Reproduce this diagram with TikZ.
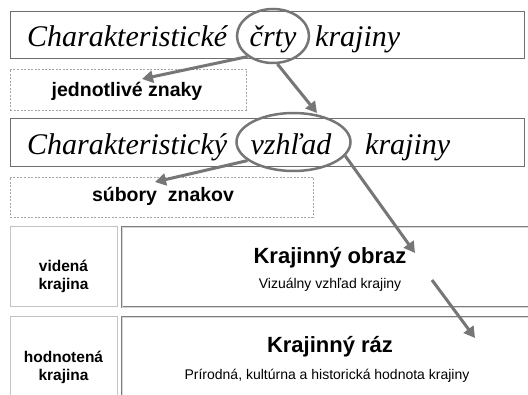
\documentclass[tikz,border=0pt]{standalone}
\usepackage{fontspec}
\newfontfamily\arialf{Liberation Sans}
\newfontfamily\timesf{Liberation Serif}
\usetikzlibrary{arrows.meta,shapes.geometric}
\definecolor{arrgray}{RGB}{118,118,118}
\definecolor{boxgray}{RGB}{110,110,110}
\definecolor{dashgray}{RGB}{165,165,165}
\definecolor{lightbox}{RGB}{195,195,195}
\definecolor{dblout}{RGB}{125,125,125}
\definecolor{dblin}{RGB}{215,215,215}
\begin{document}
\begin{tikzpicture}[x=1pt,y=-1pt,
  titlebox/.style={draw=boxgray, line width=1pt, inner sep=0pt, fill=white},
  dashbox/.style={draw=dashgray, line width=0.7pt, dash pattern=on 2pt off 1.5pt, inner sep=0pt},
  leftbox/.style={draw=lightbox, line width=1pt, inner sep=0pt},
  rightbox/.style={draw=dblout, line width=0.9pt, double=dblin, double distance=0.8pt, inner sep=0pt},
  titletext/.style={inner sep=0pt, font=\timesf\itshape\fontsize{30}{33}\selectfont},
  labeltext/.style={inner sep=0pt, anchor=base, font=\arialf\bfseries\fontsize{19.5}{21}\selectfont},
  sidetext/.style={inner sep=0pt, anchor=base, font=\arialf\bfseries\fontsize{15.5}{17}\selectfont},
  bigtext/.style={inner sep=0pt, anchor=base, font=\arialf\bfseries\fontsize{22}{24}\selectfont},
  smalltext/.style={inner sep=0pt, anchor=base, font=\arialf\fontsize{14}{16}\selectfont},
  ring/.style={ellipse, draw=arrgray, line width=2.5pt, inner sep=0pt},
  arr/.style={draw=arrgray, line width=3pt, -{Triangle[length=11pt,width=12pt]}}
]
\useasboundingbox (0,0) rectangle (528,395);
\clip (0,0) rectangle (528,395);
\fill[white] (0,0) rectangle (528,395);

% boxes
\node[titlebox, minimum width=514pt, minimum height=47pt] (t1) at (267,35.5) {};
\node[titlebox, minimum width=514pt, minimum height=48pt] (t2) at (267,143) {};
\node[dashbox, minimum width=236pt, minimum height=41pt] (d1) at (128,89.5) {};
\node[dashbox, minimum width=303pt, minimum height=40pt] (d2) at (161.5,197) {};
\node[leftbox, minimum width=107pt, minimum height=80pt] (l1) at (63.5,267) {};
\node[rightbox, minimum width=418pt, minimum height=80pt] (r1) at (331,267) {};
\node[leftbox, minimum width=107pt, minimum height=88pt] (l2) at (63.5,361) {};
\node[rightbox, minimum width=418pt, minimum height=88pt] (r2) at (331,361) {};

% title 1
\node[titletext, anchor=base west] (t1a) at (27,47) {Charakteristické};
\node[titletext, anchor=base] (t1b) at (273,47) {črty};
\node[titletext, anchor=base west] (t1c) at (315,47) {krajiny};
% title 2
\node[titletext, anchor=base west] (t2a) at (27,154.5) {Charakteristický};
\node[titletext, anchor=base] (t2b) at (291,154.5) {vzhľad};
\node[titletext, anchor=base west] (t2c) at (365,154.5) {krajiny};

% labels
\node[labeltext] (d1t) at (127,97) {jednotlivé znaky};
\node[labeltext] (d2t) at (163,202) {súbory\ \ znakov};
\node[sidetext] (l1a) at (63.5,272) {videná};
\node[sidetext] (l1b) at (63.5,290) {krajina};
\node[sidetext] (l2a) at (63.5,363) {hodnotená};
\node[sidetext] (l2b) at (63.5,381) {krajina};
\node[bigtext] (r1a) at (330,264) {Krajinný obraz};
\node[smalltext] (r1b) at (330,289) {Vizuálny vzhľad krajiny};
\node[bigtext] (r2a) at (330,353) {Krajinný ráz};
\node[smalltext] (r2b) at (327,380) {Prírodná, kultúrna a historická hodnota krajiny};

% rings
\node[ring, minimum width=72pt, minimum height=54pt] (e1) at (273,36) {};
\node[ring, minimum width=114pt, minimum height=58pt] (e2) at (293.5,142) {};

% arrow ends
\coordinate (a1) at (142,79);
\coordinate (a2) at (317,113);
\coordinate (a3) at (155,182);
\coordinate (a4) at (415,253);
\coordinate (a5s) at (432,280);
\coordinate (a5e) at (475,338);

\draw[arr] (e1.219) -- (a1);
\draw[arr] (e1.279) -- (a2);
\draw[arr] (e2.202) -- (a3);
\draw[arr] (e2.345) -- (a4);
\draw[arr] (a5s) -- (a5e);
\end{tikzpicture}
\end{document}
